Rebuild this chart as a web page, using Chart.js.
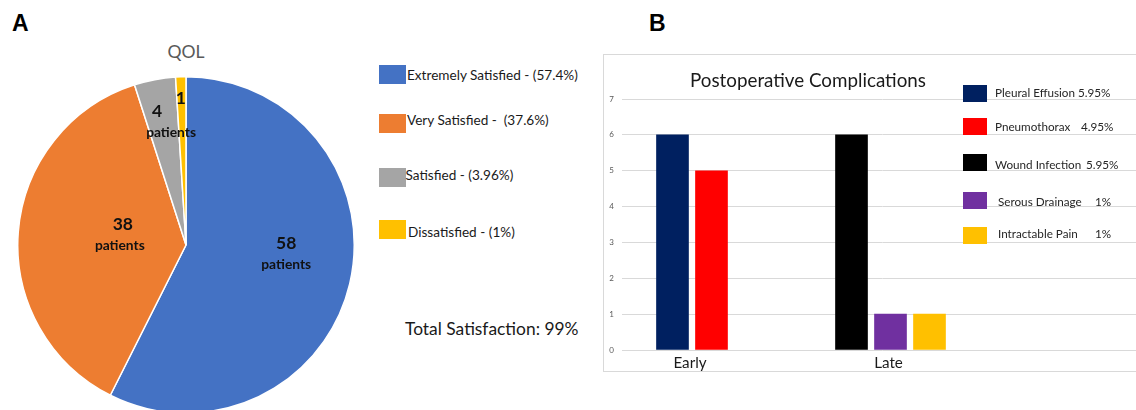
<!DOCTYPE html>
<html>
<head>
<meta charset="utf-8">
<script src="https://cdn.jsdelivr.net/npm/chart.js@4.4.0/dist/chart.umd.min.js"></script>
<style>
  html, body { margin:0; padding:0; background:#fff; width:1136px; height:410px; overflow:hidden; }
  body { position:relative; font-family: Lato, 'Open Sans', sans-serif; color:#1a1a1a; }
  .abs { position:absolute; white-space:pre; line-height:1; }
  .vc { transform: translateY(-50%); }
  .cc { transform: translate(-50%, -50%); }
  .panel { font-family:'Liberation Sans', Arial, sans-serif; font-weight:bold; font-size:23px; color:#000; }
  .box { position:absolute; }
  #frameB { position:absolute; left:603px; top:54px; width:600px; height:318px; border:1px solid #d9d9d9; box-sizing:border-box; }
</style>
</head>
<body>
<script>
// ---------------- DATA ----------------
const panelLetters = ['A', 'B'];

// Panel A: QOL pie
const qolTitle = 'QOL';
const qolCategories = ['Extremely Satisfied', 'Very Satisfied', 'Satisfied', 'Dissatisfied'];
const qolPatients = [58, 38, 4, 1];
const qolLegendLabels = ['Extremely Satisfied - (57.4%)', 'Very Satisfied -  (37.6%)', 'Satisfied - (3.96%)', 'Dissatisfied - (1%)'];
const qolSliceLabels = [['58', 'patients'], ['38', 'patients'], ['4', 'patients'], ['1']];
const totalSatisfactionText = 'Total Satisfaction: 99%';

// Panel B: Postoperative complications
const complicationTitle = 'Postoperative Complications';
const complicationCategories = ['Early', 'Late'];
const complicationNames = ['Pleural Effusion', 'Pneumothorax', 'Wound Infection', 'Serous Drainage', 'Intractable Pain'];
const complicationPercents = ['5.95%', '4.95%', '5.95%', '1%', '1%'];
const earlyCounts = [6, 5, null, null, null];
const lateCounts = [null, null, 6, 1, 1];
const yAxisMax = 7;

// ---------------- STYLES / LAYOUT ----------------
const qolColors = ['#4472C4', '#ED7D31', '#A5A5A5', '#FFC000'];
const complicationColors = ['#002060', '#FF0000', '#000000', '#7030A0', '#FFC000'];
const panelLetterPos = [{left: 12, top: 12}, {left: 649, top: 12}];
const qolLegendLayout = [
  {boxTop: 65, textY: 76, textLeft: 407},
  {boxTop: 113.5, textY: 121, textLeft: 407},
  {boxTop: 167.5, textY: 176, textLeft: 405.5},
  {boxTop: 220, textY: 232.5, textLeft: 408}
];
// label placement relative to slice: radius fraction, angle shift (deg), dx for each line
const sliceLabelLayout = [
  {frac: 0.598, dA: -8.3, dx: [0, 0]},
  {frac: 0.389, dA: 4.3, dx: [1.5, -1.5]},
  {frac: 0.744, dA: 0.6, dx: [-7, 7]},
  {frac: 0.87, dA: -0.2, dx: [0]}
];
const compLegendLayout = [
  {boxTop: 85, textY: 93, textLeft: 995, pctLeft: 1078},
  {boxTop: 118, textY: 127.3, textLeft: 995, pctLeft: 1081},
  {boxTop: 154, textY: 164.5, textLeft: 995, pctLeft: 1086},
  {boxTop: 192, textY: 202, textLeft: 998, pctLeft: 1095},
  {boxTop: 226.5, textY: 234, textLeft: 998, pctLeft: 1095}
];

function addText(txt, css, cls) {
  const d = document.createElement('div');
  d.className = 'abs ' + (cls || '');
  d.textContent = txt;
  Object.assign(d.style, css);
  document.body.appendChild(d);
  return d;
}
function addBox(color, left, top, w, h) {
  const d = document.createElement('div');
  d.className = 'box';
  Object.assign(d.style, {left: left + 'px', top: top + 'px', width: w + 'px', height: h + 'px', background: color});
  document.body.appendChild(d);
}

// panel letters
panelLetters.forEach((l, i) => addText(l, {left: panelLetterPos[i].left + 'px', top: panelLetterPos[i].top + 'px'}, 'panel'));

// frame for B
const frame = document.createElement('div'); frame.id = 'frameB'; document.body.appendChild(frame);

// ---------- Panel A ----------
addText(qolTitle, {left: '186px', top: '52px', fontSize: '17.5px', color: '#595959'}, 'cc');
qolLegendLabels.forEach((t, i) => {
  const L = qolLegendLayout[i];
  addBox(qolColors[i], 379, L.boxTop, 27, 19);
  addText(t, {left: L.textLeft + 'px', top: L.textY + 'px', fontSize: '13.6px', color: '#1a1a1a'}, 'vc');
});
addText(totalSatisfactionText, {left: '405px', top: '328.5px', fontSize: '17.4px', color: '#1a1a1a'}, 'vc');

const pieWrap = document.createElement('div');
Object.assign(pieWrap.style, {position: 'absolute', left: '17px', top: '76px', width: '338px', height: '338px'});
const pieCanvas = document.createElement('canvas');
pieWrap.appendChild(pieCanvas);
document.body.appendChild(pieWrap);

const sliceLabelPlugin = {
  id: 'sliceLabels',
  afterDatasetsDraw(chart) {
    const ctx = chart.ctx;
    const meta = chart.getDatasetMeta(0);
    meta.data.forEach((arc, i) => {
      const L = sliceLabelLayout[i];
      const mid = (arc.startAngle + arc.endAngle) / 2 + L.dA * Math.PI / 180;
      const r = arc.outerRadius * L.frac;
      const cx = arc.x + Math.cos(mid) * r;
      const cy = arc.y + Math.sin(mid) * r;
      const lines = qolSliceLabels[i];
      ctx.save();
      ctx.fillStyle = '#111';
      ctx.textAlign = 'center';
      ctx.textBaseline = 'middle';
      if (lines.length === 2) {
        ctx.font = 'bold 17.5px Lato';
        ctx.fillText(lines[0], cx + L.dx[0], cy - 10.5);
        ctx.font = 'bold 13.8px Lato';
        ctx.fillText(lines[1], cx + L.dx[1], cy + 10.5);
      } else {
        ctx.font = 'bold 17.5px Lato';
        ctx.fillText(lines[0], cx + L.dx[0], cy);
      }
      ctx.restore();
    });
  }
};

new Chart(pieCanvas, {
  type: 'pie',
  data: {
    labels: qolCategories,
    datasets: [{
      data: qolPatients,
      backgroundColor: qolColors,
      borderColor: '#ffffff',
      borderWidth: 1.5
    }]
  },
  options: {
    responsive: true,
    maintainAspectRatio: false,
    animation: false,
    layout: {padding: 0},
    plugins: {legend: {display: false}, tooltip: {enabled: false}, title: {display: false}}
  },
  plugins: [sliceLabelPlugin]
});

// ---------- Panel B ----------
addText(complicationTitle, {left: '808px', top: '80px', fontSize: '18.8px', color: '#1a1a1a'}, 'cc');
complicationNames.forEach((n, i) => {
  const L = compLegendLayout[i];
  addBox(complicationColors[i], 963, L.boxTop, 24, 17);
  addText(n, {left: L.textLeft + 'px', top: L.textY + 'px', fontSize: '11.7px', color: '#262626'}, 'vc');
  addText(complicationPercents[i], {left: L.pctLeft + 'px', top: L.textY + 'px', fontSize: '11.7px', color: '#262626'}, 'vc');
});

const barWrap = document.createElement('div');
Object.assign(barWrap.style, {position: 'absolute', left: '603px', top: '55px', width: '540px', height: '318px'});
const barCanvas = document.createElement('canvas');
barWrap.appendChild(barCanvas);
document.body.insertBefore(barWrap, document.body.firstChild);

const seriesCounts = complicationNames.map((_, i) => [earlyCounts[i], lateCounts[i]]);

new Chart(barCanvas, {
  type: 'bar',
  data: {
    datasets: complicationNames.map((name, i) => ({
      label: name,
      data: seriesCounts[i].map((v, ci) => ({x: ci, y: v})),
      backgroundColor: complicationColors[i],
      borderWidth: 0,
      barThickness: 39,
      maxBarThickness: 32,
      skipNull: true
    }))
  },
  options: {
    responsive: true,
    maintainAspectRatio: false,
    animation: false,
    layout: {padding: {top: 44, left: 0, right: 0, bottom: 0}},
    plugins: {legend: {display: false}, tooltip: {enabled: false}, title: {display: false}},
    scales: {
      x: {
        type: 'linear',
        offset: false,
        min: -0.3526,
        max: 2.272,
        grid: {display: false, drawTicks: false, offset: false},
        border: {display: false},
        afterBuildTicks: (scale) => { scale.ticks = complicationCategories.map((c, i) => ({value: i})); },
        afterFit: (scale) => { scale.height = 23; },
        ticks: {
          autoSkip: false,
          maxRotation: 0,
          padding: 4,
          labelOffset: -2,
          color: '#1a1a1a',
          font: {family: 'Lato', size: 15.2},
          callback: (v) => complicationCategories[v] !== undefined ? complicationCategories[v] : ''
        }
      },
      y: {
        min: 0,
        max: yAxisMax,
        grid: {color: '#d9d9d9', lineWidth: 1, drawTicks: false},
        border: {display: false},
        afterFit: (scale) => { scale.width = 19; },
        ticks: {stepSize: 1, padding: 8, color: '#595959', font: {family: 'Lato', size: 8}}
      }
    }
  }
});
</script>
</body>
</html>
